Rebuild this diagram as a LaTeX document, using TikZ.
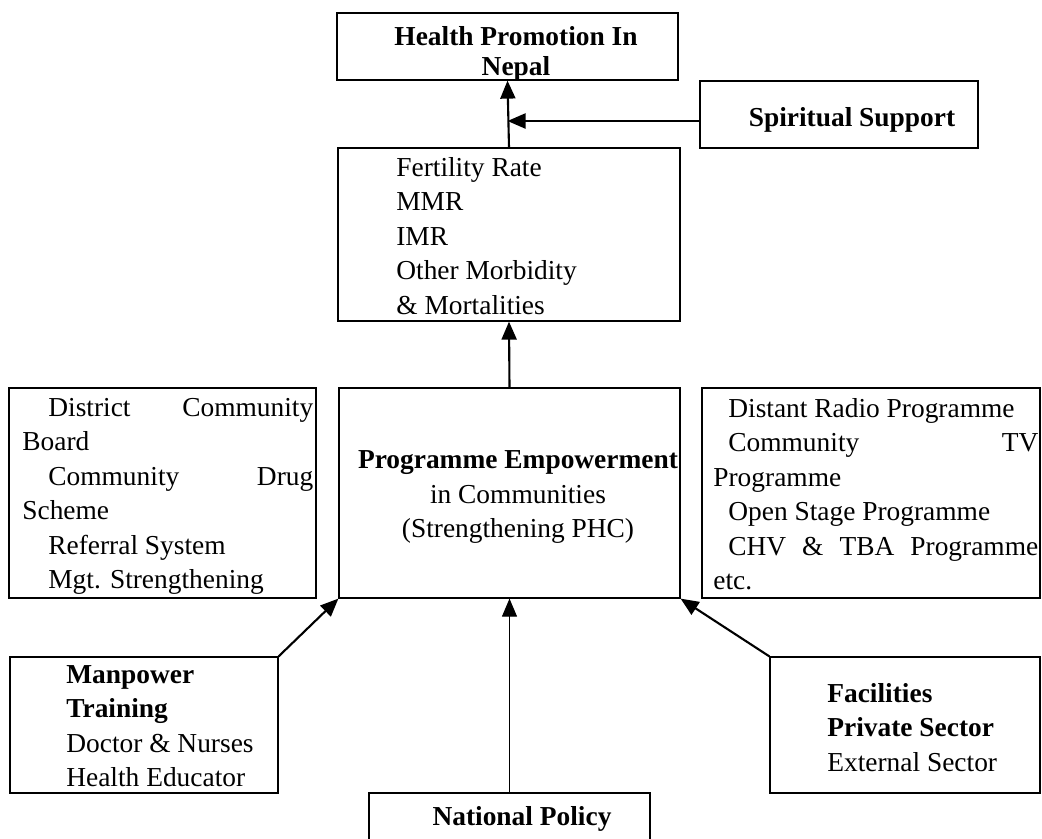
\documentclass[tikz,border=0pt]{standalone}
\usepackage{fontspec}
\setmainfont{Liberation Serif}
\usetikzlibrary{arrows.meta,fit}

\begin{document}
\begin{tikzpicture}[x=0.02cm,y=-0.02cm,
    box/.style={draw,line width=0.7pt,inner sep=0pt},
    txt/.style={inner sep=0pt,font=\fontsize{15.6}{19.6}\selectfont},
    link/.style={-{Triangle[length=0.36cm,width=0.3cm]},line width=1.2pt}]
\useasboundingbox (0,0) rectangle (1042,839);
\clip (0,0) rectangle (1042,839);

% boxes
\node[box,fit={(337,13) (678,80)}] (hp) {};
\node[box,fit={(700,81) (978,148)}] (ss) {};
\node[box,fit={(338,148) (680,321)}] (fert) {};
\node[box,fit={(339,388) (680,598)}] (prog) {};
\node[box,fit={(9,388) (316,598)}] (dcb) {};
\node[box,fit={(702,388) (1040,598)}] (media) {};
\node[box,fit={(10,657) (278,793)}] (man) {};
\node[box,fit={(770,657) (1040,793)}] (fac) {};
\node[box,fit={(369,793) (650,860)}] (nat) {};

% texts
\node[txt,align=center] (hptxt) at (516,54) {\textbf{Health Promotion In}\\[-0.1cm]\textbf{Nepal}};
\node[txt] (sstxt) at (852,120) {\textbf{Spiritual Support}};
\node[txt,align=left,anchor=north west] (ferttxt) at (396,157)
    {Fertility Rate\\MMR\\IMR\\Other Morbidity\\\& Mortalities};
\node[txt,align=center] (progtxt) at (518,497)
    {\textbf{Programme Empowerment}\\in Communities\\(Strengthening PHC)};
\node[txt,text width=5.82cm,align=justify,anchor=north west] (dcbtxt) at (22,398)
    {\hspace*{0.52cm}District Community Board\par
     \hspace*{0.52cm}Community Drug Scheme\par
     \hspace*{0.52cm}Referral System\par
     \hspace*{0.52cm}Mgt. Strengthening};
\node[txt,text width=6.5cm,align=justify,anchor=north west] (mediatxt) at (713,398)
    {\hspace*{0.3cm}Distant Radio Programme\par
     \hspace*{0.3cm}Community TV\linebreak Programme\par
     \hspace*{0.3cm}Open Stage Programme\par
     \hspace*{0.3cm}CHV \& TBA Programme etc.};
\node[txt,align=left,anchor=north west] (mantxt) at (66,665)
    {\textbf{Manpower}\\\textbf{Training}\\Doctor \& Nurses\\Health Educator};
\node[txt,align=left,anchor=north west] (factxt) at (827,683)
    {\textbf{Facilities}\\\textbf{Private Sector}\\External Sector};
\node[txt] (nattxt) at (522,819) {\textbf{National Policy}};

% connectors
\foreach \a/\b in {fert.north/hp.south, prog.north/fert.south,
                   man.north east/prog.south west, fac.north west/prog.south east}
{
    \draw[link] (\a) -- (\b);
}
\draw[link] ([yshift=-0.13cm]ss.west) -- ([yshift=-0.13cm]ss.west -| hp.south);
\draw[-{Triangle[length=0.36cm,width=0.3cm]},line width=0.6pt] (nat.north) -- (prog.south);
\end{tikzpicture}
\end{document}
